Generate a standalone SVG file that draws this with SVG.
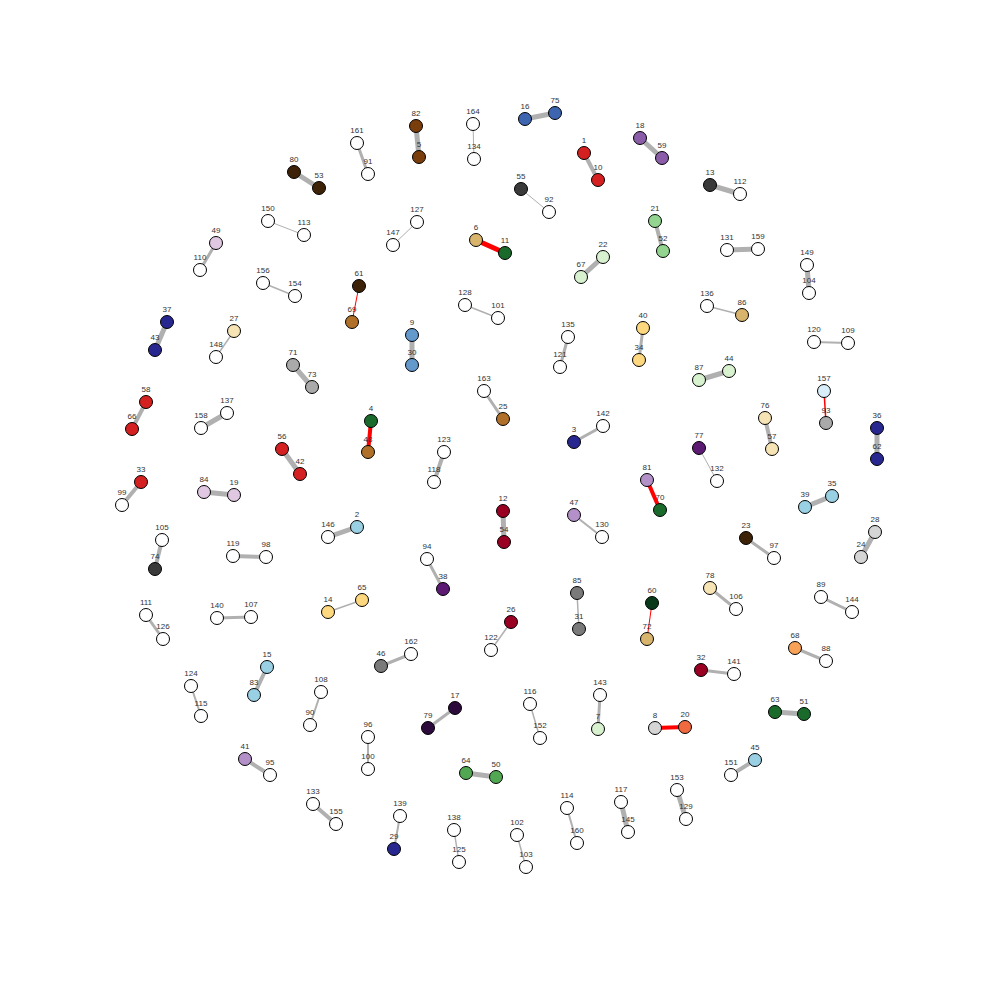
<svg xmlns="http://www.w3.org/2000/svg" width="1000" height="1000" viewBox="0 0 1000 1000">
<style>
rect.bg{fill:#fff}
#edges line{stroke:#b0b0b0;stroke-linecap:butt}
#edges line.r{stroke:#ff0000}
.w1{stroke-width:1}.w15{stroke-width:1.5}.w2{stroke-width:2}.w3{stroke-width:3}.w4{stroke-width:4}.w5{stroke-width:5}
circle{stroke:#000;stroke-width:1;r:6.5}
text{font-family:"Liberation Sans",Arial,sans-serif;font-size:8px;fill:#333;text-anchor:middle}
.w{fill:#fff}.red{fill:#d42020}.dred{fill:#990022}.navy{fill:#27278f}.blue{fill:#3d65b0}.steel{fill:#6499cc}
.lblue{fill:#9ad0e3}.lcyan{fill:#d8eef8}.purple{fill:#8b5ca8}.lav{fill:#b391c8}.lpink{fill:#e0c8e3}
.dpurple{fill:#5c1a72}.vdpurple{fill:#2d0a3c}.dgray{fill:#3a3a3a}.gray{fill:#7a7a7a}.mgray{fill:#aaaaaa}
.lgray{fill:#d5d5d5}.brown{fill:#7a3d0c}.dbrown{fill:#3d2208}.bronze{fill:#b0702a}.tan{fill:#d8b46c}
.cream{fill:#f7e4b5}.yellow{fill:#fdd87e}.dgreen{fill:#1a6a2c}.vdgreen{fill:#083a18}.green{fill:#52a852}
.lgreen{fill:#92d490}.pgreen{fill:#d8f2d0}.orange{fill:#f8a258}.ored{fill:#f06a40}
</style>
<rect class="bg" x="0" y="0" width="1000" height="1000"/>
<g id="edges">
<line class="w5" x1="416" y1="126" x2="419" y2="157"/>
<line class="w1" x1="473" y1="124" x2="474" y2="159"/>
<line class="w5" x1="525" y1="119" x2="555" y2="113"/>
<line class="w3" x1="357" y1="143" x2="368" y2="174"/>
<line class="w5" x1="294" y1="172" x2="319" y2="188"/>
<line class="w4" x1="584" y1="153" x2="598" y2="180"/>
<line class="w5" x1="640" y1="138" x2="662" y2="158"/>
<line class="w5" x1="710" y1="185" x2="740" y2="194"/>
<line class="w1" x1="521" y1="189" x2="549" y2="212"/>
<line class="w1" x1="268" y1="221" x2="304" y2="235"/>
<line class="w1" x1="417" y1="222" x2="393" y2="245"/>
<line class="w5 r" x1="476" y1="240" x2="505" y2="253"/>
<line class="w4" x1="655" y1="221" x2="663" y2="251"/>
<line class="w5" x1="603" y1="257" x2="581" y2="277"/>
<line class="w5" x1="727" y1="250" x2="758" y2="249"/>
<line class="w5" x1="807" y1="265" x2="809" y2="293"/>
<line class="w3" x1="216" y1="243" x2="200" y2="270"/>
<line class="w15" x1="263" y1="283" x2="295" y2="296"/>
<line class="w1 r" x1="359" y1="286" x2="352" y2="322"/>
<line class="w15" x1="465" y1="305" x2="498" y2="318"/>
<line class="w15" x1="707" y1="306" x2="742" y2="315"/>
<line class="w5" x1="167" y1="322" x2="155" y2="350"/>
<line class="w15" x1="234" y1="331" x2="216" y2="357"/>
<line class="w5" x1="412" y1="335" x2="412" y2="365"/>
<line class="w3" x1="568" y1="337" x2="560" y2="367"/>
<line class="w3" x1="643" y1="328" x2="639" y2="360"/>
<line class="w2" x1="814" y1="342" x2="848" y2="343"/>
<line class="w5" x1="293" y1="365" x2="312" y2="387"/>
<line class="w5" x1="699" y1="380" x2="729" y2="371"/>
<line class="w3" x1="484" y1="391" x2="503" y2="419"/>
<line class="w15 r" x1="824" y1="391" x2="826" y2="423"/>
<line class="w4" x1="765" y1="418" x2="772" y2="449"/>
<line class="w4" x1="146" y1="402" x2="132" y2="429"/>
<line class="w5" x1="201" y1="428" x2="227" y2="413"/>
<line class="w4 r" x1="371" y1="421" x2="368" y2="452"/>
<line class="w3" x1="603" y1="426" x2="574" y2="442"/>
<line class="w5" x1="877" y1="428" x2="877" y2="459"/>
<line class="w5" x1="282" y1="449" x2="300" y2="474"/>
<line class="w4" x1="444" y1="452" x2="434" y2="482"/>
<line class="w1" x1="699" y1="448" x2="717" y2="481"/>
<line class="w4" x1="141" y1="482" x2="122" y2="505"/>
<line class="w5" x1="204" y1="492" x2="234" y2="495"/>
<line class="w4 r" x1="647" y1="480" x2="660" y2="510"/>
<line class="w5" x1="805" y1="507" x2="832" y2="496"/>
<line class="w5" x1="503" y1="511" x2="504" y2="542"/>
<line class="w5" x1="357" y1="527" x2="328" y2="537"/>
<line class="w2" x1="574" y1="515" x2="602" y2="537"/>
<line class="w4" x1="162" y1="540" x2="155" y2="569"/>
<line class="w3" x1="746" y1="538" x2="774" y2="558"/>
<line class="w5" x1="875" y1="532" x2="861" y2="557"/>
<line class="w4" x1="233" y1="556" x2="266" y2="557"/>
<line class="w3" x1="427" y1="559" x2="443" y2="589"/>
<line class="w15" x1="577" y1="593" x2="579" y2="629"/>
<line class="w1 r" x1="652" y1="603" x2="647" y2="639"/>
<line class="w3" x1="710" y1="588" x2="736" y2="609"/>
<line class="w3" x1="821" y1="597" x2="852" y2="612"/>
<line class="w3" x1="146" y1="615" x2="163" y2="639"/>
<line class="w3" x1="217" y1="618" x2="251" y2="617"/>
<line class="w15" x1="328" y1="612" x2="362" y2="600"/>
<line class="w15" x1="511" y1="622" x2="491" y2="650"/>
<line class="w3" x1="381" y1="666" x2="411" y2="654"/>
<line class="w4" x1="267" y1="667" x2="254" y2="695"/>
<line class="w3" x1="795" y1="648" x2="826" y2="661"/>
<line class="w3" x1="701" y1="670" x2="734" y2="674"/>
<line class="w2" x1="191" y1="686" x2="201" y2="716"/>
<line class="w2" x1="321" y1="692" x2="310" y2="725"/>
<line class="w3" x1="455" y1="708" x2="428" y2="728"/>
<line class="w3" x1="600" y1="695" x2="598" y2="729"/>
<line class="w15" x1="530" y1="704" x2="540" y2="738"/>
<line class="w4 r" x1="655" y1="728" x2="685" y2="727"/>
<line class="w5" x1="775" y1="712" x2="804" y2="714"/>
<line class="w2" x1="368" y1="737" x2="368" y2="769"/>
<line class="w5" x1="466" y1="773" x2="496" y2="777"/>
<line class="w4" x1="245" y1="759" x2="270" y2="775"/>
<line class="w4" x1="755" y1="760" x2="731" y2="775"/>
<line class="w5" x1="677" y1="790" x2="686" y2="819"/>
<line class="w4" x1="313" y1="804" x2="336" y2="824"/>
<line class="w2" x1="400" y1="816" x2="394" y2="849"/>
<line class="w5" x1="621" y1="802" x2="628" y2="832"/>
<line class="w2" x1="567" y1="808" x2="577" y2="843"/>
<line class="w15" x1="454" y1="830" x2="459" y2="862"/>
<line class="w15" x1="517" y1="835" x2="526" y2="867"/>
</g>
<g id="n82"><circle class="brown" cx="416" cy="126" r="6.5"/><text x="416" y="116">82</text></g>
<g id="n5"><circle class="brown" cx="419" cy="157" r="6.5"/><text x="419" y="147">5</text></g>
<g id="n164"><circle class="w" cx="473" cy="124" r="6.5"/><text x="473" y="114">164</text></g>
<g id="n134"><circle class="w" cx="474" cy="159" r="6.5"/><text x="474" y="149">134</text></g>
<g id="n16"><circle class="blue" cx="525" cy="119" r="6.5"/><text x="525" y="109">16</text></g>
<g id="n75"><circle class="blue" cx="555" cy="113" r="6.5"/><text x="555" y="103">75</text></g>
<g id="n161"><circle class="w" cx="357" cy="143" r="6.5"/><text x="357" y="133">161</text></g>
<g id="n91"><circle class="w" cx="368" cy="174" r="6.5"/><text x="368" y="164">91</text></g>
<g id="n80"><circle class="dbrown" cx="294" cy="172" r="6.5"/><text x="294" y="162">80</text></g>
<g id="n53"><circle class="dbrown" cx="319" cy="188" r="6.5"/><text x="319" y="178">53</text></g>
<g id="n1"><circle class="red" cx="584" cy="153" r="6.5"/><text x="584" y="143">1</text></g>
<g id="n10"><circle class="red" cx="598" cy="180" r="6.5"/><text x="598" y="170">10</text></g>
<g id="n18"><circle class="purple" cx="640" cy="138" r="6.5"/><text x="640" y="128">18</text></g>
<g id="n59"><circle class="purple" cx="662" cy="158" r="6.5"/><text x="662" y="148">59</text></g>
<g id="n13"><circle class="dgray" cx="710" cy="185" r="6.5"/><text x="710" y="175">13</text></g>
<g id="n112"><circle class="w" cx="740" cy="194" r="6.5"/><text x="740" y="184">112</text></g>
<g id="n55"><circle class="dgray" cx="521" cy="189" r="6.5"/><text x="521" y="179">55</text></g>
<g id="n92"><circle class="w" cx="549" cy="212" r="6.5"/><text x="549" y="202">92</text></g>
<g id="n150"><circle class="w" cx="268" cy="221" r="6.5"/><text x="268" y="211">150</text></g>
<g id="n113"><circle class="w" cx="304" cy="235" r="6.5"/><text x="304" y="225">113</text></g>
<g id="n127"><circle class="w" cx="417" cy="222" r="6.5"/><text x="417" y="212">127</text></g>
<g id="n147"><circle class="w" cx="393" cy="245" r="6.5"/><text x="393" y="235">147</text></g>
<g id="n6"><circle class="tan" cx="476" cy="240" r="6.5"/><text x="476" y="230">6</text></g>
<g id="n11"><circle class="dgreen" cx="505" cy="253" r="6.5"/><text x="505" y="243">11</text></g>
<g id="n21"><circle class="lgreen" cx="655" cy="221" r="6.5"/><text x="655" y="211">21</text></g>
<g id="n52"><circle class="lgreen" cx="663" cy="251" r="6.5"/><text x="663" y="241">52</text></g>
<g id="n22"><circle class="pgreen" cx="603" cy="257" r="6.5"/><text x="603" y="247">22</text></g>
<g id="n67"><circle class="pgreen" cx="581" cy="277" r="6.5"/><text x="581" y="267">67</text></g>
<g id="n131"><circle class="w" cx="727" cy="250" r="6.5"/><text x="727" y="240">131</text></g>
<g id="n159"><circle class="w" cx="758" cy="249" r="6.5"/><text x="758" y="239">159</text></g>
<g id="n149"><circle class="w" cx="807" cy="265" r="6.5"/><text x="807" y="255">149</text></g>
<g id="n104"><circle class="w" cx="809" cy="293" r="6.5"/><text x="809" y="283">104</text></g>
<g id="n49"><circle class="lpink" cx="216" cy="243" r="6.5"/><text x="216" y="233">49</text></g>
<g id="n110"><circle class="w" cx="200" cy="270" r="6.5"/><text x="200" y="260">110</text></g>
<g id="n156"><circle class="w" cx="263" cy="283" r="6.5"/><text x="263" y="273">156</text></g>
<g id="n154"><circle class="w" cx="295" cy="296" r="6.5"/><text x="295" y="286">154</text></g>
<g id="n61"><circle class="dbrown" cx="359" cy="286" r="6.5"/><text x="359" y="276">61</text></g>
<g id="n69"><circle class="bronze" cx="352" cy="322" r="6.5"/><text x="352" y="312">69</text></g>
<g id="n128"><circle class="w" cx="465" cy="305" r="6.5"/><text x="465" y="295">128</text></g>
<g id="n101"><circle class="w" cx="498" cy="318" r="6.5"/><text x="498" y="308">101</text></g>
<g id="n136"><circle class="w" cx="707" cy="306" r="6.5"/><text x="707" y="296">136</text></g>
<g id="n86"><circle class="tan" cx="742" cy="315" r="6.5"/><text x="742" y="305">86</text></g>
<g id="n37"><circle class="navy" cx="167" cy="322" r="6.5"/><text x="167" y="312">37</text></g>
<g id="n43"><circle class="navy" cx="155" cy="350" r="6.5"/><text x="155" y="340">43</text></g>
<g id="n27"><circle class="cream" cx="234" cy="331" r="6.5"/><text x="234" y="321">27</text></g>
<g id="n148"><circle class="w" cx="216" cy="357" r="6.5"/><text x="216" y="347">148</text></g>
<g id="n9"><circle class="steel" cx="412" cy="335" r="6.5"/><text x="412" y="325">9</text></g>
<g id="n30"><circle class="steel" cx="412" cy="365" r="6.5"/><text x="412" y="355">30</text></g>
<g id="n135"><circle class="w" cx="568" cy="337" r="6.5"/><text x="568" y="327">135</text></g>
<g id="n121"><circle class="w" cx="560" cy="367" r="6.5"/><text x="560" y="357">121</text></g>
<g id="n40"><circle class="yellow" cx="643" cy="328" r="6.5"/><text x="643" y="318">40</text></g>
<g id="n34"><circle class="yellow" cx="639" cy="360" r="6.5"/><text x="639" y="350">34</text></g>
<g id="n120"><circle class="w" cx="814" cy="342" r="6.5"/><text x="814" y="332">120</text></g>
<g id="n109"><circle class="w" cx="848" cy="343" r="6.5"/><text x="848" y="333">109</text></g>
<g id="n71"><circle class="mgray" cx="293" cy="365" r="6.5"/><text x="293" y="355">71</text></g>
<g id="n73"><circle class="mgray" cx="312" cy="387" r="6.5"/><text x="312" y="377">73</text></g>
<g id="n87"><circle class="pgreen" cx="699" cy="380" r="6.5"/><text x="699" y="370">87</text></g>
<g id="n44"><circle class="pgreen" cx="729" cy="371" r="6.5"/><text x="729" y="361">44</text></g>
<g id="n163"><circle class="w" cx="484" cy="391" r="6.5"/><text x="484" y="381">163</text></g>
<g id="n25"><circle class="bronze" cx="503" cy="419" r="6.5"/><text x="503" y="409">25</text></g>
<g id="n157"><circle class="lcyan" cx="824" cy="391" r="6.5"/><text x="824" y="381">157</text></g>
<g id="n93"><circle class="mgray" cx="826" cy="423" r="6.5"/><text x="826" y="413">93</text></g>
<g id="n76"><circle class="cream" cx="765" cy="418" r="6.5"/><text x="765" y="408">76</text></g>
<g id="n57"><circle class="cream" cx="772" cy="449" r="6.5"/><text x="772" y="439">57</text></g>
<g id="n58"><circle class="red" cx="146" cy="402" r="6.5"/><text x="146" y="392">58</text></g>
<g id="n66"><circle class="red" cx="132" cy="429" r="6.5"/><text x="132" y="419">66</text></g>
<g id="n158"><circle class="w" cx="201" cy="428" r="6.5"/><text x="201" y="418">158</text></g>
<g id="n137"><circle class="w" cx="227" cy="413" r="6.5"/><text x="227" y="403">137</text></g>
<g id="n4"><circle class="dgreen" cx="371" cy="421" r="6.5"/><text x="371" y="411">4</text></g>
<g id="n48"><circle class="bronze" cx="368" cy="452" r="6.5"/><text x="368" y="442">48</text></g>
<g id="n142"><circle class="w" cx="603" cy="426" r="6.5"/><text x="603" y="416">142</text></g>
<g id="n3"><circle class="navy" cx="574" cy="442" r="6.5"/><text x="574" y="432">3</text></g>
<g id="n36"><circle class="navy" cx="877" cy="428" r="6.5"/><text x="877" y="418">36</text></g>
<g id="n62"><circle class="navy" cx="877" cy="459" r="6.5"/><text x="877" y="449">62</text></g>
<g id="n56"><circle class="red" cx="282" cy="449" r="6.5"/><text x="282" y="439">56</text></g>
<g id="n42"><circle class="red" cx="300" cy="474" r="6.5"/><text x="300" y="464">42</text></g>
<g id="n123"><circle class="w" cx="444" cy="452" r="6.5"/><text x="444" y="442">123</text></g>
<g id="n118"><circle class="w" cx="434" cy="482" r="6.5"/><text x="434" y="472">118</text></g>
<g id="n77"><circle class="dpurple" cx="699" cy="448" r="6.5"/><text x="699" y="438">77</text></g>
<g id="n132"><circle class="w" cx="717" cy="481" r="6.5"/><text x="717" y="471">132</text></g>
<g id="n33"><circle class="red" cx="141" cy="482" r="6.5"/><text x="141" y="472">33</text></g>
<g id="n99"><circle class="w" cx="122" cy="505" r="6.5"/><text x="122" y="495">99</text></g>
<g id="n84"><circle class="lpink" cx="204" cy="492" r="6.5"/><text x="204" y="482">84</text></g>
<g id="n19"><circle class="lpink" cx="234" cy="495" r="6.5"/><text x="234" y="485">19</text></g>
<g id="n81"><circle class="lav" cx="647" cy="480" r="6.5"/><text x="647" y="470">81</text></g>
<g id="n70"><circle class="dgreen" cx="660" cy="510" r="6.5"/><text x="660" y="500">70</text></g>
<g id="n39"><circle class="lblue" cx="805" cy="507" r="6.5"/><text x="805" y="497">39</text></g>
<g id="n35"><circle class="lblue" cx="832" cy="496" r="6.5"/><text x="832" y="486">35</text></g>
<g id="n12"><circle class="dred" cx="503" cy="511" r="6.5"/><text x="503" y="501">12</text></g>
<g id="n54"><circle class="dred" cx="504" cy="542" r="6.5"/><text x="504" y="532">54</text></g>
<g id="n2"><circle class="lblue" cx="357" cy="527" r="6.5"/><text x="357" y="517">2</text></g>
<g id="n146"><circle class="w" cx="328" cy="537" r="6.5"/><text x="328" y="527">146</text></g>
<g id="n47"><circle class="lav" cx="574" cy="515" r="6.5"/><text x="574" y="505">47</text></g>
<g id="n130"><circle class="w" cx="602" cy="537" r="6.5"/><text x="602" y="527">130</text></g>
<g id="n105"><circle class="w" cx="162" cy="540" r="6.5"/><text x="162" y="530">105</text></g>
<g id="n74"><circle class="dgray" cx="155" cy="569" r="6.5"/><text x="155" y="559">74</text></g>
<g id="n23"><circle class="dbrown" cx="746" cy="538" r="6.5"/><text x="746" y="528">23</text></g>
<g id="n97"><circle class="w" cx="774" cy="558" r="6.5"/><text x="774" y="548">97</text></g>
<g id="n28"><circle class="lgray" cx="875" cy="532" r="6.5"/><text x="875" y="522">28</text></g>
<g id="n24"><circle class="lgray" cx="861" cy="557" r="6.5"/><text x="861" y="547">24</text></g>
<g id="n119"><circle class="w" cx="233" cy="556" r="6.5"/><text x="233" y="546">119</text></g>
<g id="n98"><circle class="w" cx="266" cy="557" r="6.5"/><text x="266" y="547">98</text></g>
<g id="n94"><circle class="w" cx="427" cy="559" r="6.5"/><text x="427" y="549">94</text></g>
<g id="n38"><circle class="dpurple" cx="443" cy="589" r="6.5"/><text x="443" y="579">38</text></g>
<g id="n85"><circle class="gray" cx="577" cy="593" r="6.5"/><text x="577" y="583">85</text></g>
<g id="n31"><circle class="gray" cx="579" cy="629" r="6.5"/><text x="579" y="619">31</text></g>
<g id="n60"><circle class="vdgreen" cx="652" cy="603" r="6.5"/><text x="652" y="593">60</text></g>
<g id="n72"><circle class="tan" cx="647" cy="639" r="6.5"/><text x="647" y="629">72</text></g>
<g id="n78"><circle class="cream" cx="710" cy="588" r="6.5"/><text x="710" y="578">78</text></g>
<g id="n106"><circle class="w" cx="736" cy="609" r="6.5"/><text x="736" y="599">106</text></g>
<g id="n89"><circle class="w" cx="821" cy="597" r="6.5"/><text x="821" y="587">89</text></g>
<g id="n144"><circle class="w" cx="852" cy="612" r="6.5"/><text x="852" y="602">144</text></g>
<g id="n111"><circle class="w" cx="146" cy="615" r="6.5"/><text x="146" y="605">111</text></g>
<g id="n126"><circle class="w" cx="163" cy="639" r="6.5"/><text x="163" y="629">126</text></g>
<g id="n140"><circle class="w" cx="217" cy="618" r="6.5"/><text x="217" y="608">140</text></g>
<g id="n107"><circle class="w" cx="251" cy="617" r="6.5"/><text x="251" y="607">107</text></g>
<g id="n14"><circle class="yellow" cx="328" cy="612" r="6.5"/><text x="328" y="602">14</text></g>
<g id="n65"><circle class="yellow" cx="362" cy="600" r="6.5"/><text x="362" y="590">65</text></g>
<g id="n26"><circle class="dred" cx="511" cy="622" r="6.5"/><text x="511" y="612">26</text></g>
<g id="n122"><circle class="w" cx="491" cy="650" r="6.5"/><text x="491" y="640">122</text></g>
<g id="n46"><circle class="gray" cx="381" cy="666" r="6.5"/><text x="381" y="656">46</text></g>
<g id="n162"><circle class="w" cx="411" cy="654" r="6.5"/><text x="411" y="644">162</text></g>
<g id="n15"><circle class="lblue" cx="267" cy="667" r="6.5"/><text x="267" y="657">15</text></g>
<g id="n83"><circle class="lblue" cx="254" cy="695" r="6.5"/><text x="254" y="685">83</text></g>
<g id="n68"><circle class="orange" cx="795" cy="648" r="6.5"/><text x="795" y="638">68</text></g>
<g id="n88"><circle class="w" cx="826" cy="661" r="6.5"/><text x="826" y="651">88</text></g>
<g id="n32"><circle class="dred" cx="701" cy="670" r="6.5"/><text x="701" y="660">32</text></g>
<g id="n141"><circle class="w" cx="734" cy="674" r="6.5"/><text x="734" y="664">141</text></g>
<g id="n124"><circle class="w" cx="191" cy="686" r="6.5"/><text x="191" y="676">124</text></g>
<g id="n115"><circle class="w" cx="201" cy="716" r="6.5"/><text x="201" y="706">115</text></g>
<g id="n108"><circle class="w" cx="321" cy="692" r="6.5"/><text x="321" y="682">108</text></g>
<g id="n90"><circle class="w" cx="310" cy="725" r="6.5"/><text x="310" y="715">90</text></g>
<g id="n17"><circle class="vdpurple" cx="455" cy="708" r="6.5"/><text x="455" y="698">17</text></g>
<g id="n79"><circle class="vdpurple" cx="428" cy="728" r="6.5"/><text x="428" y="718">79</text></g>
<g id="n143"><circle class="w" cx="600" cy="695" r="6.5"/><text x="600" y="685">143</text></g>
<g id="n7"><circle class="pgreen" cx="598" cy="729" r="6.5"/><text x="598" y="719">7</text></g>
<g id="n116"><circle class="w" cx="530" cy="704" r="6.5"/><text x="530" y="694">116</text></g>
<g id="n152"><circle class="w" cx="540" cy="738" r="6.5"/><text x="540" y="728">152</text></g>
<g id="n8"><circle class="lgray" cx="655" cy="728" r="6.5"/><text x="655" y="718">8</text></g>
<g id="n20"><circle class="ored" cx="685" cy="727" r="6.5"/><text x="685" y="717">20</text></g>
<g id="n63"><circle class="dgreen" cx="775" cy="712" r="6.5"/><text x="775" y="702">63</text></g>
<g id="n51"><circle class="dgreen" cx="804" cy="714" r="6.5"/><text x="804" y="704">51</text></g>
<g id="n96"><circle class="w" cx="368" cy="737" r="6.5"/><text x="368" y="727">96</text></g>
<g id="n100"><circle class="w" cx="368" cy="769" r="6.5"/><text x="368" y="759">100</text></g>
<g id="n64"><circle class="green" cx="466" cy="773" r="6.5"/><text x="466" y="763">64</text></g>
<g id="n50"><circle class="green" cx="496" cy="777" r="6.5"/><text x="496" y="767">50</text></g>
<g id="n41"><circle class="lav" cx="245" cy="759" r="6.5"/><text x="245" y="749">41</text></g>
<g id="n95"><circle class="w" cx="270" cy="775" r="6.5"/><text x="270" y="765">95</text></g>
<g id="n45"><circle class="lblue" cx="755" cy="760" r="6.5"/><text x="755" y="750">45</text></g>
<g id="n151"><circle class="w" cx="731" cy="775" r="6.5"/><text x="731" y="765">151</text></g>
<g id="n153"><circle class="w" cx="677" cy="790" r="6.5"/><text x="677" y="780">153</text></g>
<g id="n129"><circle class="w" cx="686" cy="819" r="6.5"/><text x="686" y="809">129</text></g>
<g id="n133"><circle class="w" cx="313" cy="804" r="6.5"/><text x="313" y="794">133</text></g>
<g id="n155"><circle class="w" cx="336" cy="824" r="6.5"/><text x="336" y="814">155</text></g>
<g id="n139"><circle class="w" cx="400" cy="816" r="6.5"/><text x="400" y="806">139</text></g>
<g id="n29"><circle class="navy" cx="394" cy="849" r="6.5"/><text x="394" y="839">29</text></g>
<g id="n117"><circle class="w" cx="621" cy="802" r="6.5"/><text x="621" y="792">117</text></g>
<g id="n145"><circle class="w" cx="628" cy="832" r="6.5"/><text x="628" y="822">145</text></g>
<g id="n114"><circle class="w" cx="567" cy="808" r="6.5"/><text x="567" y="798">114</text></g>
<g id="n160"><circle class="w" cx="577" cy="843" r="6.5"/><text x="577" y="833">160</text></g>
<g id="n138"><circle class="w" cx="454" cy="830" r="6.5"/><text x="454" y="820">138</text></g>
<g id="n125"><circle class="w" cx="459" cy="862" r="6.5"/><text x="459" y="852">125</text></g>
<g id="n102"><circle class="w" cx="517" cy="835" r="6.5"/><text x="517" y="825">102</text></g>
<g id="n103"><circle class="w" cx="526" cy="867" r="6.5"/><text x="526" y="857">103</text></g>
</svg>
